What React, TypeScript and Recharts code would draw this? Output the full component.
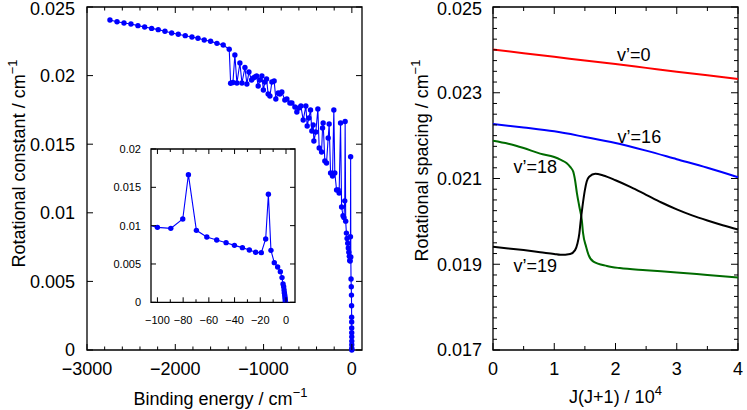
import React from 'react';
import { LineChart, Line, XAxis, YAxis, ReferenceArea, ReferenceDot } from 'recharts';

const FONT = '"Liberation Sans", Arial, Helvetica, sans-serif';

// ---------- Left panel: rotational constant vs binding energy ----------
const bindingEnergy = [
  -2740, -2660, -2581, -2502, -2423, -2347, -2268, -2193, -2117, -2041, -1966, -1887, -1811, -1743, -1672, -1600, -1528, -1457, -1389,
  -1373, -1347, -1325, -1302, -1268, -1245, -1211, -1189, -1166, -1136, -1115, -1098, -1079, -1061, -1042, -1019, -1002, -985, -966,
  -948, -928, -906, -880, -861, -834, -815, -793, -759, -736, -702, -679, -645, -623, -600, -577, -551, -521, -506, -487, -468, -453,
  -438, -430, -408, -385, -370, -343, -332, -325, -306, -287, -268, -257, -241, -219, -204, -193, -173, -155, -144, -128, -116,
  -100.0, -89.6, -80.3, -75.9, -69.7, -61.6, -53.9, -46.6, -40.1, -33.9, -28.5, -23.6, -19.2, -15.8, -13.7, -11.7, -9.1, -6.5, -4.4,
  -3.1, -2.3, -1.8, -1.5, -1.3, -1.0, -0.8, -0.6, -0.5, -0.4,
];
const rotationalConstant = [
  0.02405, 0.02393, 0.02383, 0.02376, 0.02364, 0.02354, 0.02344, 0.02335, 0.02323, 0.02311, 0.02301, 0.02291, 0.02281, 0.02272, 0.02259, 0.0225, 0.02235, 0.02223, 0.02192,
  0.01944, 0.0195, 0.0215, 0.01946, 0.02092, 0.01946, 0.02059, 0.01939, 0.02026, 0.01968, 0.01983, 0.0199, 0.01997, 0.01924, 0.01968, 0.01997, 0.01895, 0.01953, 0.01975,
  0.01866, 0.01851, 0.01953, 0.01961, 0.01829, 0.01873, 0.01866, 0.0188, 0.01822, 0.01829, 0.018, 0.018, 0.01771, 0.01735, 0.01764, 0.01778, 0.01676, 0.01778, 0.01633, 0.01691, 0.01749, 0.01596,
  0.0164, 0.01523, 0.01589, 0.01757, 0.01472, 0.01443, 0.01618, 0.01655, 0.01378, 0.01363, 0.01545, 0.01647, 0.0129, 0.01268, 0.01749, 0.0129, 0.01166, 0.01166, 0.01144, 0.01655, 0.01042,
  0.00978, 0.00965, 0.01087, 0.01665, 0.00939, 0.00852, 0.00813, 0.00778, 0.00743, 0.00713, 0.00683, 0.00652, 0.00648, 0.00826, 0.01409, 0.00678, 0.00517, 0.00461, 0.004,
  0.00322, 0.00239, 0.00204, 0.0016, 0.00126, 0.00096, 0.00065, 0.00039, 0.00013, 0.0,
];

const leftXMajor = [-3000, -2000, -1000, 0];
const leftXLabels = ['\u22123000', '\u22122000', '\u22121000', '0'];
const leftYMajor = [0, 0.005, 0.01, 0.015, 0.02, 0.025];
const leftYLabels = ['0', '0.005', '0.01', '0.015', '0.02', '0.025'];

const insetXMajor = [-100, -80, -60, -40, -20, 0];
const insetXLabels = ['\u2212100', '\u221280', '\u221260', '\u221240', '\u221220', '0'];
const insetYMajor = [0, 0.005, 0.01, 0.015, 0.02];
const insetYLabels = ['0', '0.005', '0.01', '0.015', '0.02'];

// ---------- Right panel: rotational spacing vs J(J+1)/10^4 ----------
const jGrid = [0, 0.5, 1, 1.5, 2, 2.5, 3, 3.5, 4];
const spacingV0 = [0.02401, 0.02392, 0.02384, 0.02375, 0.02367, 0.02358, 0.02349, 0.02341, 0.02332];
const spacingV16 = [0.02227, 0.02219, 0.0221, 0.02197, 0.02183, 0.02165, 0.02145, 0.02125, 0.02103];
const jV18 = [0, 0.25, 0.5, 0.77, 1.0, 1.1, 1.2, 1.26, 1.31, 1.34, 1.37, 1.41, 1.45, 1.47, 1.52, 1.56, 1.64, 1.86, 2.07, 2.5, 3.0, 3.5, 4.0];
const spacingV18 = [0.02188, 0.02181, 0.02171, 0.02158, 0.0215, 0.02144, 0.02136, 0.02127, 0.02116, 0.02096, 0.02066, 0.02034, 0.02003, 0.01973, 0.01941, 0.01922, 0.01906, 0.01896, 0.01891, 0.01886, 0.01881, 0.01875, 0.01869];
const jV19 = [0, 0.25, 0.5, 0.77, 1.0, 1.1, 1.26, 1.34, 1.38, 1.41, 1.43, 1.46, 1.5, 1.53, 1.57, 1.67, 1.8, 2.0, 2.25, 2.5, 2.75, 3.0, 3.25, 3.5, 3.75, 4.0];
const spacingV19 = [0.01941, 0.01937, 0.01933, 0.01928, 0.01924, 0.01922, 0.01924, 0.01933, 0.01949, 0.01972, 0.01999, 0.02034, 0.02073, 0.02093, 0.02104, 0.02111, 0.02107, 0.02096, 0.0208, 0.02062, 0.02044, 0.02028, 0.02014, 0.02002, 0.01991, 0.01981];

const rightXMajor = [0, 1, 2, 3, 4];
const rightXLabels = ['0', '1', '2', '3', '4'];
const rightYMajor = [0.017, 0.019, 0.021, 0.023, 0.025];
const rightYLabels = ['0.017', '0.019', '0.021', '0.023', '0.025'];

const seriesLabels = [
  { text: 'v\u2019=0', j: 2.3, s: 0.0239 },
  { text: 'v\u2019=16', j: 2.39, s: 0.02199 },
  { text: 'v\u2019=18', j: 0.69, s: 0.021275 },
  { text: 'v\u2019=19', j: 0.69, s: 0.01898 },
];

// ---------- built tables ----------
const leftData = bindingEnergy.map((E, i) => ({ E, B: rotationalConstant[i] }));
const insetData = leftData.filter((d) => d.E >= -120);
const v0Data = jGrid.map((J, i) => ({ J, s: spacingV0[i] }));
const v16Data = jGrid.map((J, i) => ({ J, s: spacingV16[i] }));
const v18Data = jV18.map((J, i) => ({ J, s: spacingV18[i] }));
const v19Data = jV19.map((J, i) => ({ J, s: spacingV19[i] }));

const steps = (from: number, to: number, step: number) => {
  const out: number[] = [];
  const n = Math.round((to - from) / step);
  for (let i = 0; i <= n; i++) out.push(+(from + i * step).toFixed(6));
  return out;
};
const leftXTicks = steps(-3000, 0, 200);
const insetXTicks = steps(-100, 0, 10);
const rightXTicks = steps(0, 4, 0.5);
const rightYTicks = steps(0.017, 0.025, 0.00025);

// ---------- tick helpers ----------
type TickOpts = {
  majors: number[];
  labels: string[];
  len: number;
  minorLen: number;
  span: number;
  fontSize: number;
  gap: number;
};
const findMajor = (majors: number[], v: number) => majors.findIndex((m) => Math.abs(m - v) < 1e-9);

function makeXTick(o: TickOpts) {
  return (props: any) => {
    const { x, y, payload } = props;
    const idx = findMajor(o.majors, payload.value);
    const len = idx >= 0 ? o.len : o.minorLen;
    return (
      <g>
        <line x1={x} x2={x} y1={y} y2={y - len} stroke="#000" strokeWidth={1} />
        <line x1={x} x2={x} y1={y - o.span} y2={y - o.span + len} stroke="#000" strokeWidth={1} />
        {idx >= 0 && (
          <text x={x} y={y + o.gap} textAnchor="middle" fontSize={o.fontSize} fontFamily={FONT} fill="#000">
            {o.labels[idx]}
          </text>
        )}
      </g>
    );
  };
}

function makeYTick(o: TickOpts) {
  return (props: any) => {
    const { x, y, payload } = props;
    const idx = findMajor(o.majors, payload.value);
    const len = idx >= 0 ? o.len : o.minorLen;
    const ly = Math.max(y, 8.5);
    return (
      <g>
        <line x1={x} x2={x + len} y1={y} y2={y} stroke="#000" strokeWidth={1} />
        <line x1={x + o.span} x2={x + o.span - len} y1={y} y2={y} stroke="#000" strokeWidth={1} />
        {idx >= 0 && (
          <text x={x - o.gap} y={ly} dy="0.36em" textAnchor="end" fontSize={o.fontSize} fontFamily={FONT} fill="#000">
            {o.labels[idx]}
          </text>
        )}
      </g>
    );
  };
}

const xTitle = (main: string, sup: string, dyBase: number, shift: number) => (props: any) => {
  const vb = props.viewBox;
  return (
    <text x={vb.x + vb.width / 2 + shift} y={vb.y + dyBase} textAnchor="middle" fontSize={18} fontFamily={FONT} fill="#000">
      {main}
      <tspan dy={-8} fontSize={13}>{sup}</tspan>
    </text>
  );
};

const yTitle = (main: string, sup: string, fromPlot: number, shift: number) => (props: any) => {
  const vb = props.viewBox;
  const cx = vb.x + vb.width - fromPlot;
  const cy = vb.y + vb.height / 2 + shift;
  return (
    <text x={cx} y={cy} transform={`rotate(-90, ${cx}, ${cy})`} textAnchor="middle" fontSize={18} fontFamily={FONT} fill="#000">
      {main}
      <tspan dy={-8} fontSize={13}>{sup}</tspan>
    </text>
  );
};

const LEFT_W = 380;
const RIGHT_W = 367;
const H = 410;

export default function App() {
  const leftPlotW = 362 - 87;
  const plotH = 350 - 7;
  const rightPlotW = 738 - 493;
  const insetPlotW = 295 - 151;
  const insetPlotH = 302.3 - 149;

  return (
    <div style={{ position: 'absolute', left: 0, top: 0, width: 747, height: 410, background: '#fff' }}>
      {/* Left main panel */}
      <div style={{ position: 'absolute', left: 0, top: 0 }}>
        <LineChart width={LEFT_W} height={H} data={leftData} margin={{ top: 7, right: 18, bottom: 0, left: 0 }}>
          <XAxis
            dataKey="E"
            type="number"
            domain={[-3000, 115]}
            ticks={leftXTicks}
            interval={0}
            tickSize={0}
            tickMargin={0}
            tickLine={false}
            axisLine={false}
            height={60}
            tick={makeXTick({ majors: leftXMajor, labels: leftXLabels, len: 6, minorLen: 3.5, span: plotH, fontSize: 18, gap: 25 })}
            label={xTitle('Binding energy / cm', '\u22121', 55, -4)}
          />
          <YAxis
            dataKey="B"
            type="number"
            domain={[0, 0.025]}
            ticks={leftYMajor}
            interval={0}
            tickSize={0}
            tickMargin={0}
            tickLine={false}
            axisLine={false}
            width={87}
            tick={makeYTick({ majors: leftYMajor, labels: leftYLabels, len: 6, minorLen: 3.5, span: leftPlotW, fontSize: 18, gap: 12 })}
            label={yTitle('Rotational constant / cm', '\u22121', 62, -15)}
          />
          <ReferenceArea x1={-3000} x2={115} y1={0} y2={0.025} fill="none" stroke="#000" strokeWidth={1.3} ifOverflow="visible" />
          <Line
            dataKey="B"
            type="linear"
            stroke="#0000ff"
            strokeWidth={1.1}
            dot={{ r: 2.7, fill: '#0000ff', stroke: 'none' }}
            activeDot={false}
            isAnimationActive={false}
          />
        </LineChart>
      </div>

      {/* Inset */}
      <div style={{ position: 'absolute', left: 100, top: 140 }}>
        <LineChart width={205} height={200} data={insetData} margin={{ top: 9, right: 10, bottom: 0, left: 0 }}>
          <XAxis
            dataKey="E"
            type="number"
            domain={[-105, 7]}
            allowDataOverflow
            ticks={insetXTicks}
            interval={0}
            tickSize={0}
            tickMargin={0}
            tickLine={false}
            axisLine={false}
            height={200 - 9 - insetPlotH}
            tick={makeXTick({ majors: insetXMajor, labels: insetXLabels, len: 5, minorLen: 3, span: insetPlotH, fontSize: 11, gap: 22 })}
          />
          <YAxis
            dataKey="B"
            type="number"
            domain={[0, 0.02]}
            allowDataOverflow
            ticks={insetYMajor}
            interval={0}
            tickSize={0}
            tickMargin={0}
            tickLine={false}
            axisLine={false}
            width={51}
            tick={makeYTick({ majors: insetYMajor, labels: insetYLabels, len: 5, minorLen: 3, span: insetPlotW, fontSize: 11, gap: 10 })}
          />
          <ReferenceArea x1={-105} x2={7} y1={0} y2={0.02} fill="none" stroke="#000" strokeWidth={1.3} ifOverflow="visible" />
          <Line
            dataKey="B"
            type="linear"
            stroke="#0000ff"
            strokeWidth={1.1}
            dot={{ r: 2.7, fill: '#0000ff', stroke: 'none' }}
            activeDot={false}
            isAnimationActive={false}
          />
        </LineChart>
      </div>

      {/* Right panel */}
      <div style={{ position: 'absolute', left: LEFT_W, top: 0 }}>
        <LineChart width={RIGHT_W} height={H} margin={{ top: 7, right: 9, bottom: 0, left: 0 }}>
          <XAxis
            dataKey="J"
            type="number"
            domain={[0, 4]}
            ticks={rightXTicks}
            interval={0}
            tickSize={0}
            tickMargin={0}
            tickLine={false}
            axisLine={false}
            height={60}
            tick={makeXTick({ majors: rightXMajor, labels: rightXLabels, len: 7, minorLen: 4, span: plotH, fontSize: 18, gap: 25 })}
            label={xTitle('J(J+1) / 10', '4', 53, 0)}
          />
          <YAxis
            type="number"
            domain={[0.017, 0.025]}
            ticks={rightYTicks}
            interval={0}
            tickSize={0}
            tickMargin={0}
            tickLine={false}
            axisLine={false}
            width={113}
            tick={makeYTick({ majors: rightYMajor, labels: rightYLabels, len: 7, minorLen: 4, span: rightPlotW, fontSize: 18, gap: 11 })}
            label={yTitle('Rotational spacing / cm', '\u22121', 65, -18)}
          />
          <ReferenceArea x1={0} x2={4} y1={0.017} y2={0.025} fill="none" stroke="#000" strokeWidth={1.3} ifOverflow="visible" />
          <Line data={v0Data} dataKey="s" type="monotone" stroke="#ff0000" strokeWidth={2} dot={false} activeDot={false} isAnimationActive={false} />
          <Line data={v16Data} dataKey="s" type="monotone" stroke="#0000ff" strokeWidth={2} dot={false} activeDot={false} isAnimationActive={false} />
          <Line data={v18Data} dataKey="s" type="monotone" stroke="#006b00" strokeWidth={2} dot={false} activeDot={false} isAnimationActive={false} />
          <Line data={v19Data} dataKey="s" type="monotone" stroke="#000000" strokeWidth={2} dot={false} activeDot={false} isAnimationActive={false} />
          {seriesLabels.map((l) => (
            <ReferenceDot
              key={l.text}
              x={l.j}
              y={l.s}
              r={0}
              ifOverflow="visible"
              shape={(p: any) => (
                <text x={p.cx} y={p.cy} dy="0.36em" textAnchor="middle" fontSize={18} fontFamily={FONT} fill="#000">
                  {l.text}
                </text>
              )}
            />
          ))}
        </LineChart>
      </div>
    </div>
  );
}
